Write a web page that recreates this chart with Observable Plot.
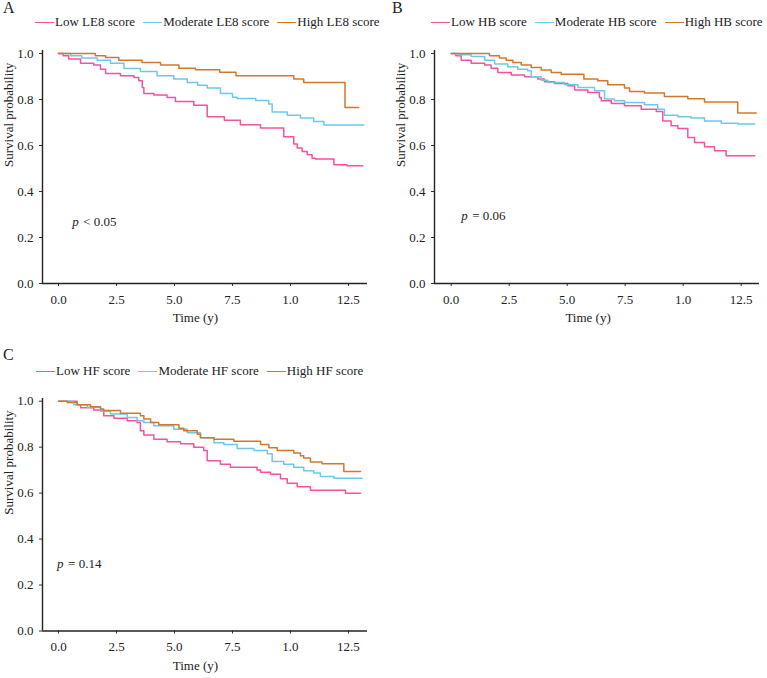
<!DOCTYPE html>
<html>
<head>
<meta charset="utf-8">
<script src="https://cdn.jsdelivr.net/npm/d3@7"></script>
<script src="https://cdn.jsdelivr.net/npm/@observablehq/plot@0.6"></script>
<style>
  body { margin: 0; background: #fff; }
  #fig { position: relative; width: 767px; height: 678px; font-family: "Liberation Serif", "Times New Roman", serif; color: #222; overflow: hidden; }
  .tag { position: absolute; font-size: 16px; line-height: 16px; }
  .legend { position: absolute; display: flex; align-items: center; gap: 8px; font-size: 13px; line-height: 14px; white-space: nowrap; }
  .legend .item { display: flex; align-items: center; }
  .legend .swatch { width: 19px; height: 0; border-top: 1.5px solid; margin-right: 1px; }
  .panel { position: absolute; }
  .panel svg { display: block; overflow: visible; }
</style>
</head>
<body>
<div id="fig"></div>
<script>
// Kaplan–Meier step curves: [time in years, survival probability]
const groupColors = ["#F5529F", "#6CC8EE", "#D2782C"];

// Panel A — Life's Essential 8 score
const legendA = ["Low LE8 score", "Moderate LE8 score", "High LE8 score"];
const lowLE8 = [[0,1],[0.2,0.99],[0.44,0.976],[0.95,0.958],[1.52,0.95],[1.81,0.932],[2.03,0.913],[2.67,0.903],[3.25,0.896],[3.46,0.881],[3.61,0.852],[3.68,0.826],[4.11,0.819],[4.68,0.809],[5.04,0.791],[5.83,0.775],[6.41,0.725],[7.15,0.71],[7.84,0.69],[8.71,0.676],[9.71,0.638],[10.14,0.606],[10.29,0.589],[10.5,0.574],[10.72,0.56],[10.93,0.545],[11.08,0.541],[11.87,0.516],[12.44,0.512],[13.12,0.512]];
const modLE8 = [[0,1],[0.52,0.99],[1.0,0.98],[1.67,0.971],[2.24,0.958],[2.82,0.935],[3.53,0.922],[4.25,0.903],[4.97,0.889],[5.55,0.874],[6.0,0.862],[6.41,0.85],[6.98,0.826],[7.5,0.81],[7.7,0.804],[8.5,0.796],[9.06,0.78],[9.21,0.746],[9.86,0.732],[10.43,0.719],[11.0,0.704],[11.44,0.689],[13.16,0.689]];
const highLE8 = [[0,1],[1.59,0.99],[2.03,0.983],[2.6,0.971],[3.6,0.961],[4.4,0.95],[5.19,0.936],[5.9,0.929],[6.95,0.918],[7.65,0.903],[10.14,0.889],[10.57,0.874],[12.35,0.765],[12.94,0.765]];

// Panel B — health behaviours score
const legendB = ["Low HB score", "Moderate HB score", "High HB score"];
const lowHB = [[0,1],[0.2,0.99],[0.43,0.971],[0.86,0.958],[1.44,0.95],[1.72,0.936],[2.01,0.917],[2.59,0.907],[3.16,0.899],[3.73,0.889],[4.02,0.877],[4.45,0.87],[5.03,0.86],[5.32,0.841],[5.89,0.83],[6.39,0.809],[6.47,0.794],[6.9,0.783],[7.47,0.773],[8.19,0.758],[8.84,0.748],[9.12,0.707],[9.48,0.686],[9.77,0.674],[10.2,0.635],[10.49,0.613],[10.92,0.594],[11.35,0.577],[11.85,0.555],[13.08,0.555]];
const modHB = [[0,1],[0.3,0.994],[0.86,0.987],[1.44,0.971],[1.87,0.954],[2.44,0.942],[2.87,0.932],[3.3,0.925],[3.45,0.899],[3.88,0.884],[4.17,0.874],[4.88,0.864],[5.46,0.852],[6.18,0.838],[6.61,0.802],[7.04,0.794],[7.47,0.787],[8.33,0.777],[8.9,0.758],[9.19,0.732],[9.77,0.725],[10.34,0.719],[10.92,0.707],[11.64,0.697],[12.35,0.693],[13.08,0.693]];
const highHB = [[0,1],[1.65,0.99],[2.08,0.98],[2.37,0.971],[2.66,0.961],[3.02,0.95],[3.45,0.939],[3.88,0.928],[4.31,0.917],[4.74,0.91],[5.72,0.889],[6.32,0.882],[6.75,0.864],[7.47,0.85],[7.69,0.835],[8.33,0.828],[9.19,0.813],[10.2,0.803],[10.92,0.789],[12.35,0.741],[13.15,0.741]];

// Panel C — health factors score
const legendC = ["Low HF score", "Moderate HF score", "High HF score"];
const lowHF = [[0,1],[0.8,0.985],[0.95,0.971],[1.52,0.962],[1.95,0.937],[2.39,0.926],[2.96,0.915],[3.39,0.907],[3.53,0.871],[3.68,0.853],[4.11,0.834],[4.68,0.824],[5.26,0.815],[5.83,0.8],[6.26,0.785],[6.41,0.741],[6.98,0.726],[7.41,0.712],[8.56,0.701],[8.71,0.691],[9.14,0.682],[9.57,0.662],[9.86,0.643],[10.29,0.628],[10.86,0.613],[12.37,0.599],[13.02,0.599]];
const modHF = [[0,1],[0.66,0.985],[1.24,0.974],[1.81,0.956],[2.24,0.944],[2.96,0.929],[3.39,0.915],[3.68,0.907],[4.11,0.893],[4.97,0.878],[5.55,0.863],[6.12,0.841],[6.7,0.819],[7.13,0.812],[7.7,0.794],[8.42,0.785],[9.0,0.771],[9.21,0.738],[9.71,0.726],[10.14,0.712],[10.57,0.697],[11.0,0.687],[11.29,0.672],[11.87,0.665],[13.09,0.665]];
const highHF = [[0,1],[0.37,0.994],[0.8,0.985],[1.38,0.976],[1.81,0.966],[1.95,0.959],[2.67,0.947],[3.53,0.937],[3.68,0.922],[3.97,0.907],[4.32,0.897],[5.19,0.882],[5.4,0.871],[5.98,0.856],[6.12,0.841],[6.7,0.834],[7.56,0.826],[8.71,0.812],[9.07,0.797],[9.43,0.785],[10.14,0.775],[10.43,0.763],[10.57,0.753],[10.86,0.735],[11.36,0.728],[12.3,0.694],[13.02,0.694]];

// Axis ticks and their printed labels
const xTicks = [0, 2.5, 5, 7.5, 10, 12.5];
const xTickLabels = ["0.0", "2.5", "5.0", "7.5", "1.0", "12.5"];
const yTicks = [0, 0.2, 0.4, 0.6, 0.8, 1.0];
const pLabels = ["< 0.05", "= 0.06", "= 0.14"];

const xLabelOf = new Map(xTicks.map((t, i) => [t, xTickLabels[i]]));
const fig = document.getElementById("fig");
const FONT = "Liberation Serif, Times New Roman, serif";

function addLegend(labels, left, centerY) {
  const lg = document.createElement("div");
  lg.className = "legend";
  lg.style.left = left + "px";
  lg.style.top = (centerY - 7) + "px";
  labels.forEach((lab, i) => {
    const item = document.createElement("div");
    item.className = "item";
    const sw = document.createElement("div");
    sw.className = "swatch";
    sw.style.borderTopColor = groupColors[i];
    const tx = document.createElement("span");
    tx.textContent = lab;
    item.append(sw, tx);
    lg.append(item);
  });
  fig.append(lg);
}

function addTag(letter, left, top) {
  const t = document.createElement("div");
  t.className = "tag";
  t.style.left = left + "px";
  t.style.top = top + "px";
  t.textContent = letter;
  fig.append(t);
}

function addPanel(cfg) {
  const {left, top, width, height, marginLeft, marginRight, marginTop, marginBottom, xDomain, yTop, series, pText, pAt} = cfg;
  const marks = [
    Plot.axisY(yTicks, {tickSize: 3, tickPadding: 6, tickFormat: d => d.toFixed(1), label: null, stroke: "#333", fill: "#222", fontSize: 13}),
    Plot.axisX(xTicks, {tickSize: 3, tickPadding: 8, tickFormat: d => xLabelOf.get(d), label: null, stroke: "#333", fill: "#222", fontSize: 13}),
    Plot.ruleX([xDomain[0]], {y1: 0, y2: yTop, stroke: "#222", strokeWidth: 1.4}),
    Plot.ruleY([0], {stroke: "#222", strokeWidth: 1.4}),
    ...series.map((s, i) => Plot.line(s, {x: d => d[0], y: d => d[1], curve: "step-after", stroke: groupColors[i], strokeWidth: 1.5})),
    Plot.text(["Survival probability"], {text: d => d, frameAnchor: "left", rotate: -90, dx: -33.5, fontSize: 13, fill: "#222"}),
    Plot.text(["Time (y)"], {text: d => d, x: 5.9, frameAnchor: "bottom", dy: 38.5, fontSize: 13, fill: "#222"}),
    Plot.text(["p"], {text: d => d, x: pAt[0], y: pAt[1], textAnchor: "start", fontStyle: "italic", fontSize: 13, fill: "#222"}),
    Plot.text([pText], {text: d => d, x: pAt[0], y: pAt[1], textAnchor: "start", dx: 11, fontSize: 13, fill: "#222"})
  ];
  const chart = Plot.plot({
    width, height, marginLeft, marginRight, marginTop, marginBottom,
    x: {domain: xDomain},
    y: {domain: [0, yTop]},
    style: {fontFamily: FONT, fontSize: "13px", color: "#222", background: "transparent"},
    marks
  });
  const wrap = document.createElement("div");
  wrap.className = "panel";
  wrap.style.left = left + "px";
  wrap.style.top = top + "px";
  wrap.append(chart);
  fig.append(wrap);
}

// Panel A
addTag("A", 3, 0);
addLegend(legendA, 35, 22);
addPanel({left: 0, top: 40, width: 384, height: 300, marginLeft: 42, marginRight: 17, marginTop: 10, marginBottom: 57,
  xDomain: [-0.69, 13.32], yTop: 1.013, series: [lowLE8, modLE8, highLE8], pText: pLabels[0], pAt: [0.59, 0.267]});

// Panel B
addTag("B", 392, 0);
addLegend(legendB, 431, 22);
addPanel({left: 384, top: 40, width: 383, height: 300, marginLeft: 50, marginRight: 8, marginTop: 10, marginBottom: 57,
  xDomain: [-0.72, 13.29], yTop: 1.013, series: [lowHB, modHB, highHB], pText: pLabels[1], pAt: [0.43, 0.296]});

// Panel C
addTag("C", 3, 347);
addLegend(legendC, 36, 371);
addPanel({left: 0, top: 388, width: 384, height: 290, marginLeft: 42, marginRight: 17, marginTop: 10, marginBottom: 47.5,
  xDomain: [-0.69, 13.32], yTop: 1.0117, series: [lowHF, modHF, highHF], pText: pLabels[2], pAt: [-0.06, 0.292]});
</script>
</body>
</html>
